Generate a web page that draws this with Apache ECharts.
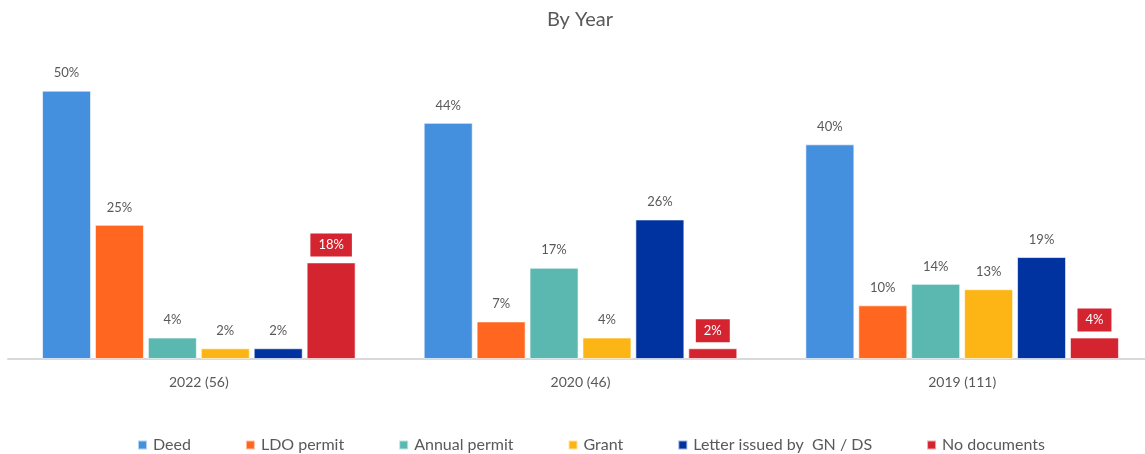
<!DOCTYPE html>
<html>
<head>
<meta charset="utf-8">
<script src="https://cdn.jsdelivr.net/npm/echarts@6/dist/echarts.min.js"></script>
<style>html,body{margin:0;padding:0;background:#fff;overflow:hidden}#c{width:1160px;height:454px}</style>
</head>
<body>
<div id="c"></div>
<script>
const categories = ['2022 (56)', '2020 (46)', '2019 (111)'];
const seriesNames = ['Deed', 'LDO permit', 'Annual permit', 'Grant', 'Letter issued by  GN / DS', 'No documents'];
const deed = [50, 44, 40];
const ldoPermit = [25, 7, 10];
const annualPermit = [4, 17, 14];
const grant = [2, 4, 13];
const letterGnDs = [2, 26, 19];
const noDocuments = [18, 2, 4];
const colors = ['#448FDE', '#FF661F', '#5BB8B1', '#FDB515', '#0032A0', '#D4242F'];

const values = [deed, ldoPermit, annualPermit, grant, letterGnDs, noDocuments];
const font = 'Lato, "Open Sans", sans-serif';

const series = seriesNames.map((name, i) => {
  const isRed = i === 5;
  return {
    name: name,
    type: 'bar',
    data: values[i],
    barWidth: 49,
    barGap: '8%',
    itemStyle: { color: colors[i], borderColor: 'rgba(255,255,255,0.6)', borderWidth: 1 },
    label: isRed ? {
      show: true, position: 'top', distance: 6,
      formatter: '{c}%', color: '#fff', fontSize: 13, fontFamily: font,
      backgroundColor: colors[i], padding: [5, 8, 5, 8]
    } : {
      show: true, position: 'top', distance: 11,
      formatter: '{c}%', color: '#595959', fontSize: 13, fontFamily: font
    }
  };
});

const chart = echarts.init(document.getElementById('c'));
chart.setOption({
  animation: false,
  color: colors,
  title: {
    text: 'By Year', left: 'center', top: 5,
    textStyle: { color: '#595959', fontSize: 20, fontWeight: 'normal', fontFamily: font }
  },
  legend: {
    data: seriesNames, top: 432, left: 132,
    itemWidth: 9, itemHeight: 9, itemGap: 54, icon: 'rect',
    textStyle: { color: '#595959', fontSize: 16, fontFamily: font, padding: [0, 0, 0, 1] }
  },
  grid: { left: 8, width: 1145, top: 37, bottom: 95, containLabel: false },
  xAxis: {
    type: 'category', data: categories,
    axisLine: { lineStyle: { color: '#D9D9D9', width: 2 } },
    axisTick: { show: false },
    axisLabel: { color: '#595959', fontSize: 14, fontFamily: font, margin: 16 }
  },
  yAxis: { type: 'value', min: 0, max: 60, show: false, splitLine: { show: false } },
  series: series
});
</script>
</body>
</html>
